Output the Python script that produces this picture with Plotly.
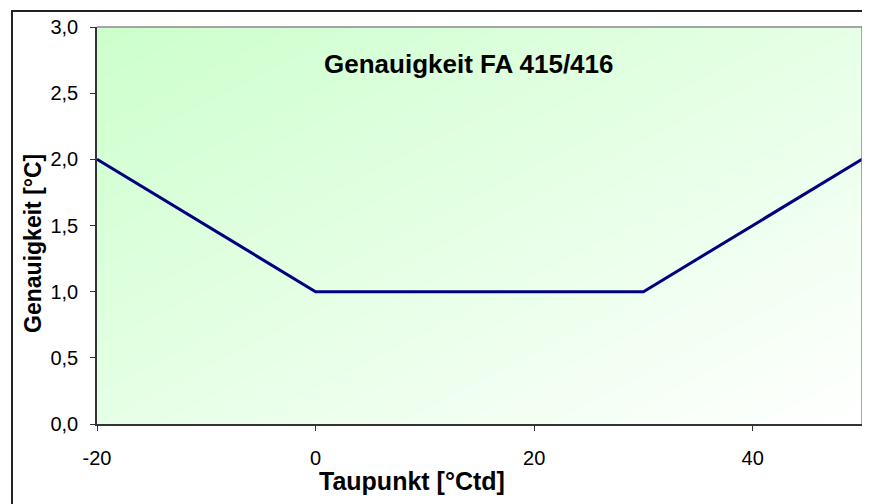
import numpy as np
import plotly.graph_objects as go

# Data
taupunkt = [-20, 0, 30, 50]
genauigkeit = [2.0, 1.0, 1.0, 2.0]
x_ticks = [-20, 0, 20, 40]
y_ticks = [0.0, 0.5, 1.0, 1.5, 2.0, 2.5, 3.0]
title_text = "Genauigkeit FA 415/416"
x_title = "Taupunkt [°Ctd]"
y_title = "Genauigkeit [°C]"

# page body has an 8px margin; size figure to fit the 870x504 window
OFF = 8
W, H = 862, 496
L, R, T, B = 89, 8, 17, 80
pw, ph = W - L - R, H - T - B

def px_x(p):  # screen x -> paper
    return (p - OFF - L) / pw

def px_y(p):  # screen y -> paper
    return (H - B - (p - OFF)) / ph

FONT = "Liberation Sans, Arial, sans-serif"

# background gradient (style only)
n = 60
gx = np.linspace(-20, 50, n)
gy = np.linspace(0, 3, n)
u = (gx - gx[0]) / (gx[-1] - gx[0])
v = (gy - gy[0]) / (gy[-1] - gy[0])
gz = u[None, :] + (1 - v[:, None])

fig = go.Figure()
fig.add_trace(go.Heatmap(
    x=gx, y=gy, z=gz, zsmooth="best",
    colorscale=[[0, "#CCFFCC"], [1, "#FFFFFF"]],
    showscale=False, hoverinfo="skip"))
fig.add_trace(go.Scatter(
    x=taupunkt, y=genauigkeit, mode="lines",
    line=dict(color="#000080", width=3), hoverinfo="skip"))

fig.update_layout(
    width=W, height=H,
    margin=dict(l=L, r=R, t=T, b=B),
    paper_bgcolor="white", plot_bgcolor="white",
    showlegend=False,
    separators=",.",
    font=dict(family=FONT, size=20, color="black"),
)
fig.update_xaxes(
    range=[-20, 50], tickvals=x_ticks, ticktext=[str(t) for t in x_ticks],
    showgrid=False, zeroline=False,
    showline=True, linecolor="#333333", linewidth=1.5,
    ticks="outside", ticklen=5, tickcolor="#333333", tickwidth=1,
    ticklabelstandoff=10,
    tickfont=dict(size=20, family=FONT, color="black"),
)
fig.update_yaxes(
    range=[0, 3], tickvals=y_ticks, tickformat=".1f",
    showgrid=False, zeroline=False,
    showline=True, linecolor="#333333", linewidth=1.5,
    ticks="outside", ticklen=5, tickcolor="#333333", tickwidth=1,
    ticklabelstandoff=8,
    tickfont=dict(size=20, family=FONT, color="black"),
)

shapes = [
    # plot border top and right (gray)
    dict(type="line", xref="paper", yref="paper", x0=0, x1=1, y0=1, y1=1,
         line=dict(color="#888888", width=1.5)),
    dict(type="line", xref="paper", yref="paper", x0=1, x1=1, y0=0, y1=1,
         line=dict(color="#888888", width=1.5)),
    # outer frame
    dict(type="rect", xref="paper", yref="paper",
         x0=px_x(12), x1=px_x(885), y0=px_y(520), y1=px_y(9),
         line=dict(color="#222222", width=2)),
]
fig.update_layout(shapes=shapes)

fig.add_annotation(text="<b>%s</b>" % title_text, xref="paper", yref="paper",
                   x=px_x(469), y=px_y(62), xanchor="center", yanchor="middle",
                   showarrow=False, font=dict(size=26, family=FONT, color="black"))
fig.add_annotation(text="<b>%s</b>" % x_title, xref="paper", yref="paper",
                   x=px_x(412), y=px_y(481), xanchor="center", yanchor="middle",
                   showarrow=False, font=dict(size=25, family=FONT, color="black"))
fig.add_annotation(text="<b>%s</b>" % y_title, xref="paper", yref="paper",
                   x=px_x(33), y=px_y(243), xanchor="center", yanchor="middle",
                   textangle=-90,
                   showarrow=False, font=dict(size=23, family=FONT, color="black"))

fig.write_html("out.html")
